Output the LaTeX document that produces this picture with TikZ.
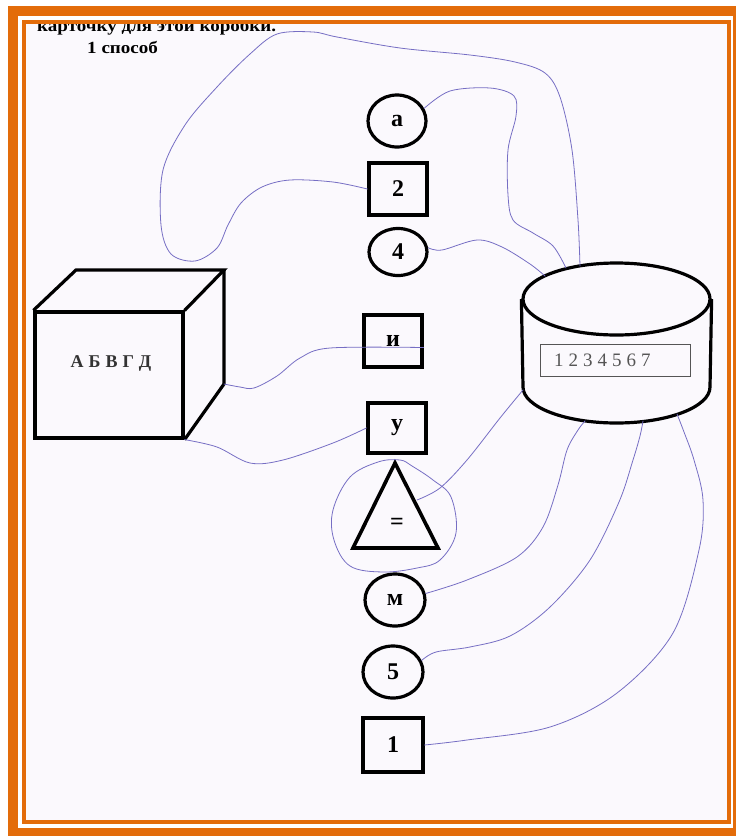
\documentclass[tikz,border=0pt]{standalone}
\usepackage{fontspec}
\setmainfont{Liberation Serif}
\definecolor{frameorange}{RGB}{227,108,10}
\definecolor{pen}{RGB}{118,110,196}
\definecolor{paper}{RGB}{251,249,253}
\definecolor{digitgray}{RGB}{85,85,85}
\begin{document}
\begin{tikzpicture}[x=1pt,y=-1pt,
  ink/.style={draw=black,line width=3.2pt,line join=miter},
  lbl/.style={font=\fontsize{24}{24}\selectfont\bfseries,inner sep=0pt},
  sqbox/.style={ink,rectangle,minimum width=58pt,minimum height=52pt,inner sep=0pt,lbl},
  rndbox/.style={ink,ellipse,minimum width=58pt,minimum height=52pt,inner sep=0pt,lbl},
  wire/.style={draw=pen,line width=0.8pt,line cap=round,line join=round},
  headtext/.style={font=\fontsize{17}{17}\selectfont\bfseries,inner sep=0pt,anchor=base west,xscale=1.12}
]
\usetikzlibrary{shapes.geometric}
\useasboundingbox (0,0) rectangle (736,836);
\fill[white] (0,0) rectangle (736,836);
\fill[paper] (24,22) rectangle (729,822);

% heading (cut by frame)
\begin{scope}
\clip (24,24) rectangle (729,822);
\node[headtext] (head) at (37,31) {карточку для этой коробки.};
\node[headtext] (way) at (87,53) {1 способ};
\end{scope}

% column of cards
\node[rndbox] (ca) at (397,121) {а};
\node[sqbox] (s2) at (398,189) {2};
\node[rndbox,minimum height=47pt] (c4) at (398,252) {4};
\node[sqbox] (si) at (393,341) {и};
\node[sqbox,minimum height=50pt] (sy) at (397,428) {у};
\coordinate (tA) at (395,463);
\coordinate (tB) at (353,548);
\coordinate (tC) at (438,548);
\draw[ink,line width=3.6pt] (tA) -- (tB) -- (tC) -- cycle;
\node[lbl] (eq) at (397,524) {=};
\coordinate (tIn) at (417,500);
\node[rndbox,minimum width=60pt] (cm) at (395,600) {м};
\node[rndbox,minimum width=60pt] (c5) at (393,672) {5};
\node[sqbox,minimum width=60pt,minimum height=54pt] (s1) at (393,745) {1};

% cube
\node[ink,rectangle,minimum width=148pt,minimum height=126pt,inner sep=0pt] (cube) at (109,375) {};
\coordinate (cbk1) at (76,270);
\coordinate (cbk2) at (224,270);
\coordinate (cbk3) at (224,384);
\draw[ink] (cube.north west) -- (cbk1) -- (cbk2) -- (cube.north east);
\draw[ink] (cbk2) -- (cbk3) -- (cube.south east);
\node[font=\fontsize{18}{18}\selectfont\bfseries,text=black!80] (abc) at (111,363)
  {А\hspace{5pt}Б\hspace{5pt}В\hspace{5pt}Г\hspace{5pt}Д};

% cylinder
\fill[paper] (523,299) -- (523,387) .. controls (523,406.9) and (564.9,423) .. (616.5,423)
  .. controls (668.1,423) and (710,406.9) .. (710,387) -- (710,299) -- cycle;
\node[ink,ellipse,minimum width=187pt,minimum height=72pt,inner sep=0pt] (cyl) at (616.5,299) {};
\coordinate (cbl) at (523,387);
\coordinate (cbr) at (710,387);
\draw[ink] (cyl.west) -- (cbl) .. controls (523,406.9) and (564.9,423) .. (616.5,423)
  .. controls (668.1,423) and (710,406.9) .. (cbr) -- (cyl.east);
\node[draw=digitgray,line width=0.8pt,fill=paper,minimum width=150pt,minimum height=32pt,inner sep=0pt] (card) at (615,360) {};
\node[anchor=west,text=digitgray,font=\fontsize{19}{19}\selectfont,inner sep=0pt] (digits) at (554,360)
  {1\hspace{5pt}2\hspace{5pt}3\hspace{5pt}4\hspace{5pt}5\hspace{5pt}6\hspace{5pt}7};

% attachment points on the cylinder
\coordinate (pA) at (566,268);
\coordinate (p2) at (580,266);
\coordinate (p4) at (545,276);
\coordinate (pT) at (523,390);
\coordinate (pM) at (585,421);
\coordinate (p5) at (643,421);
\coordinate (p1) at (677,414);

% connectors
\draw[wire] plot[smooth,tension=0.55] coordinates {(ca.25) (450,91) (490,88) (514,96) (516,116) (508,150) (508,195) (513,220) (533,233) (553,246) (pA)};
\draw[wire] plot[smooth,tension=0.55] coordinates {(s2.west) (333,182) (290,180) (262,187) (241,203) (228,225) (217,248) (195,261) (171,254) (161,225) (163,170) (185,125) (217,87) (250,54) (277,34) (313,32) (337,37) (400,48) (470,55) (515,62) (545,73) (560,97) (572,150) (578,220) (p2)};
\draw[wire] plot[smooth,tension=0.55] coordinates {(c4.8) (442,250) (477,240) (502,247) (530,264) (p4)};
\draw[wire] plot[smooth,tension=0.55] coordinates {(cbk3) (240,387) (254,388) (277,376) (300,358) (330,348) (si.-12)};
\draw[wire] plot[smooth,tension=0.55] coordinates {(cube.south east) (217,447) (250,463) (283,460) (333,443) (sy.west)};
\draw[wire] plot[smooth cycle,tension=0.6] coordinates {(400,460) (378,462) (350,477) (333,510) (334,540) (350,566) (383,572) (417,568) (440,560) (456,533) (451,497) (433,480) (412,466)};
\draw[wire] plot[smooth,tension=0.55] coordinates {(pT) (500,418) (467,460) (440,488) (tIn)};
\draw[wire] plot[smooth,tension=0.55] coordinates {(cm.12) (467,580) (517,557) (543,527) (558,485) (567,450) (578,430) (pM)};
\draw[wire] plot[smooth,tension=0.55] coordinates {(c5.22) (436,652) (470,647) (510,636) (550,607) (590,560) (619,502) (633,460) (640,436) (p5)};
\draw[wire] plot[smooth,tension=0.55] coordinates {(s1.east) (467,740) (550,727) (617,693) (673,633) (699,550) (703,500) (694,460) (684,432) (p1)};

% frame
\draw[frameorange,line width=10pt] (12.5,11) rectangle (738,833);
\draw[frameorange,line width=4pt] (24,22) rectangle (729,822);
\end{tikzpicture}
\end{document}
